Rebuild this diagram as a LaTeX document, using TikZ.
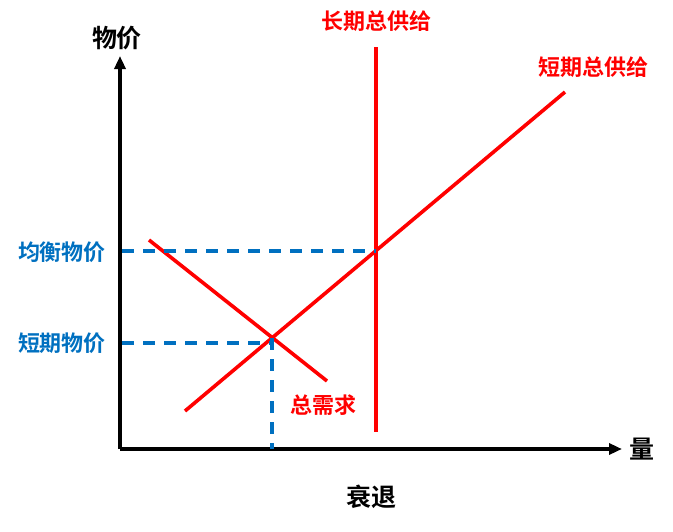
\documentclass[tikz,border=0pt]{standalone}
\usepackage{fontspec}
\setmainfont{Noto Sans CJK SC}[BoldFont={Noto Sans CJK SC Bold}]
\usetikzlibrary{arrows.meta}
\definecolor{cred}{RGB}{255,0,0}
\definecolor{cblue}{RGB}{0,112,192}
\tikzset{
  axis/.style={line width=3.4pt,-{Triangle[length=13pt,width=11pt]}},
  curve/.style={cred,line width=3.6pt},
  guide/.style={cblue,line width=3.4pt,dash pattern=on 12pt off 9pt},
  redlbl/.style={cred,font=\fontsize{22}{26}\selectfont\bfseries},
  bluelbl/.style={cblue,font=\fontsize{22}{26}\selectfont\bfseries},
  blklbl/.style={black,font=\fontsize{25}{29}\selectfont\bfseries},
}
\begin{document}
\begin{tikzpicture}[x=1pt,y=-1pt]
\useasboundingbox (0,0) rectangle (673,531);
\coordinate (O) at (120,449);
\coordinate (ytip) at (120,56);
\coordinate (xtip) at (622,449);
\draw[axis] (O) -- (ytip);
\draw[axis] (O) -- (xtip);
\node[blklbl] (ylab) at (117,38) {物价};
\node[blklbl] (xlab) at (642,449) {量};
\node[blklbl] (title) at (371,497) {衰退};
% curves
\coordinate (lt) at (376,47);
\coordinate (lb) at (376,432);
\draw[curve] (lt) -- (lb);
\coordinate (s1) at (185,411);
\coordinate (s2) at (565,92);
\draw[curve] (s1) -- (s2);
\coordinate (d1) at (149,240);
\coordinate (d2) at (327,381);
\draw[curve] (d1) -- (d2);
% guides
\coordinate (eqL) at (122,251);
\coordinate (eqR) at (376,251);
\coordinate (spL) at (122,343);
\coordinate (spR) at (272,343);
\coordinate (E) at (272,338);
\coordinate (Eb) at (272,449);
\draw[guide] (eqL) -- (eqR);
\draw[guide] (spL) -- (spR);
\draw[guide] (E) -- (Eb);
% labels
\node[redlbl] (lras) at (376,21) {长期总供给};
\node[redlbl] (sras) at (593,67) {短期总供给};
\node[redlbl] (ad) at (323,405) {总需求};
\node[bluelbl] (peq) at (62,252) {均衡物价};
\node[bluelbl] (psr) at (62,343) {短期物价};
\end{tikzpicture}
\end{document}
